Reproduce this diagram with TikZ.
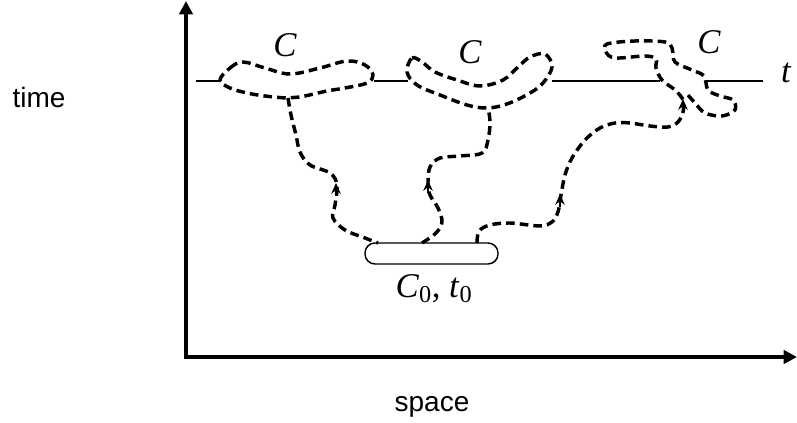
\documentclass[tikz,border=0pt]{standalone}
\usepackage{fontspec}
\setmainfont{Liberation Serif}
\setsansfont{Liberation Sans}
\usetikzlibrary{arrows.meta,shapes.misc}
\begin{document}
\begin{tikzpicture}[x=0.75pt,y=-0.75pt,
  dsh/.style={line width=2.6pt, dash pattern=on 6.5pt off 3.8pt, line join=round},
  lbl/.style={font=\sffamily\fontsize{21}{25}\selectfont, anchor=base, inner sep=0},
  mth/.style={font=\itshape\fontsize{26}{30}\selectfont, anchor=base, inner sep=0},
  mk/.style={-{Stealth[length=8pt,width=7pt]}, line width=2.2pt},
  tline/.style={line width=1.1pt}]
\useasboundingbox (0,0) rectangle (797,423);
% axes
\coordinate (org) at (186,357);
\coordinate (ytop) at (186,1);
\coordinate (xend) at (797,357);
\draw[line width=3.6pt, {Triangle[length=10pt,width=10pt]}-{Triangle[length=10pt,width=10pt]}] (ytop) -- (org) -- (xend);
% labels
\node[lbl] (time) at (39,108) {time};
\node[lbl] (space) at (432,412) {space};
\node[mth] (c1) at (285,57) {C};
\node[mth] (c2) at (470,64) {C};
\node[mth] (c3) at (709,54) {C};
\node[mth] (tt) at (786,83) {t};
\node[font=\fontsize{26}{30}\selectfont, anchor=base, inner sep=0] (c0lbl) at (434,298) {\textit{C}\textsubscript{0}, \textit{t}\textsubscript{0}};
% time line segments
\draw[tline] (196,81) -- (221,81);
\draw[tline] (374,81) -- (408,81);
\draw[tline] (552,81) -- (660,81);
\draw[tline] (707,81) -- (763,81);
% initial configuration
\node[draw, line width=1.1pt, rounded corners=7.5pt, minimum width=99.75pt, minimum height=15.75pt, inner sep=0] (c0) at (431.5,253.5) {};
% loop 1
\draw[dsh] plot[smooth cycle, tension=0.6] coordinates {(220,80) (230,68) (243,62) (265,68) (290,74) (320,68) (347,61) (365,65) (373,75) (367,83) (345,88) (327,91) (300,97) (287,98) (265,96) (247,93) (230,88)};
% loop 2
\draw[dsh] plot[smooth cycle, tension=0.6] coordinates {(407,72) (412,58) (422,62) (435,72) (457,80) (480,86) (503,80) (518,67) (530,57) (545,54) (552,67) (543,83) (530,93) (507,104) (487,108) (467,105) (440,95) (417,85)};
% path 1
\draw[dsh] plot[smooth, tension=0.6] coordinates {(288,98) (291,115) (296,135) (300,152) (310,165) (330,173) (337,185) (335,205) (333,218) (345,230) (365,238) (378,243)};
% path 2
\draw[dsh] plot[smooth, tension=0.6] coordinates {(422,243) (436,233) (442,222) (438,208) (430,195) (428,183) (430,167) (440,158) (460,156) (482,153) (488,140) (490,122) (488,108)};
% path 3 with loop 3
\draw[dsh] plot[smooth, tension=0.55] coordinates {(477,243) (479,231) (490,225) (510,223) (540,226) (552,222) (558,212) (561,195) (565,175) (572,158) (585,140) (600,128) (615,123) (630,123) (650,126) (668,127) (678,122) (683,112) (683,100) (675,90) (662,80) (656,68) (656,59) (645,56) (615,58) (606,52) (607,44) (635,41) (665,42) (672,48) (675,62) (692,70) (704,76) (708,90) (720,96) (733,100) (735,110) (722,116) (705,113) (695,103) (688,95)};
% direction marks
\draw[mk] (336,196) -- (336,183);
\draw[mk] (428,193) -- (428,180);
\draw[mk] (560,207) -- (560,194);
\draw[mk] (683,112) -- (683,99);
\end{tikzpicture}
\end{document}
